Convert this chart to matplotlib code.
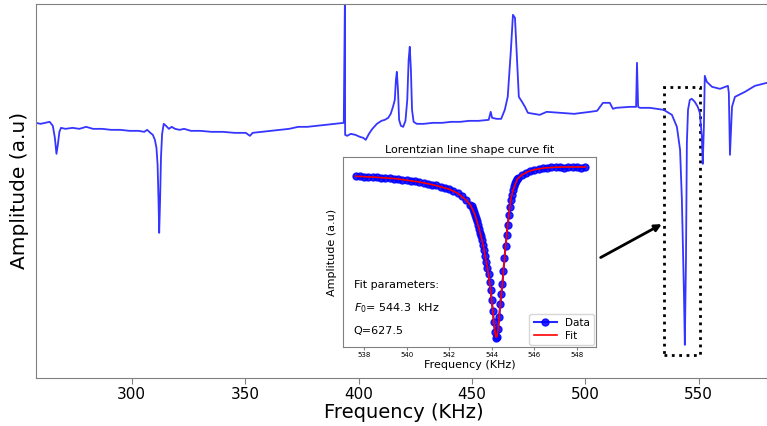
import matplotlib
matplotlib.use("Agg")
import matplotlib.pyplot as plt
from matplotlib.patches import Rectangle

# ---- main spectrum (frequency in kHz, amplitude in arbitrary units) ----
spec_freq = [257.7, 259.8, 261.8, 263.8, 265.2, 266.1, 266.8, 267.4, 268.1, 268.8,
             270.8, 273.9, 276.9, 279.9, 282.9, 286.9, 290.9, 295.0, 299.0, 303.0,
             305.5, 306.8, 308.2, 309.3, 310.2, 310.9, 311.4, 311.8, 312.1, 312.5,
             312.9, 313.4, 314.1, 315.1, 316.4, 317.6, 319.1, 321.1, 323.1, 326.1,
             330.2, 335.2, 340.2, 345.3, 350.3, 352.1, 353.3, 357.3, 361.3, 365.4,
             369.4, 373.4, 377.4, 381.5, 385.5, 389.5, 393.5, 394.0, 394.1, 395.0,
             396.6, 398.6, 400.6, 402.1, 403.2, 404.6, 406.1, 408.1, 410.1, 411.6,
             413.1, 414.2, 415.2, 416.0, 416.5, 416.9, 417.4, 417.9, 418.7, 419.7,
             420.7, 421.5, 422.1, 422.6, 423.1, 423.6, 424.3, 425.7, 428.7, 432.8,
             436.8, 440.8, 444.8, 448.8, 452.9, 457.4, 458.3, 458.9, 460.9, 462.9,
             464.5, 465.8, 467.2, 468.1, 469.0, 469.9, 470.7, 472.1, 473.4, 474.7,
             479.9, 483.0, 488.8, 495.1, 502.1, 505.2, 506.5, 507.8, 510.8, 512.2,
             513.5, 519.7, 522.4, 522.8, 523.3, 524.1, 528.5, 534.6, 538.2, 540.4,
             541.8, 542.6, 543.5, 543.9, 544.4, 544.8, 545.3, 546.1, 547.0, 548.3,
             549.6, 550.5, 551.4, 551.8, 552.3, 552.7, 553.6, 555.9, 559.4, 562.9,
             563.3, 563.8, 564.7, 566.0, 570.4, 574.8, 580.1]
spec_amp = [255, 254, 255, 256, 252, 240, 224, 233, 246, 250,
            249, 250, 249, 251, 249, 249, 248, 248, 247, 247,
            246, 248, 245, 243, 238, 230, 213, 178, 145, 178,
            221, 244, 254, 252, 249, 251, 249, 248, 249, 247,
            247, 246, 246, 245, 245, 242, 245, 246, 247, 248,
            249, 251, 251, 252, 253, 254, 255, 380, 243, 242,
            244, 243, 241, 240, 238, 244, 249, 254, 257, 258,
            260, 264, 271, 278, 298, 306, 288, 258, 252, 251,
            257, 278, 318, 331, 308, 268, 256, 254, 254, 255,
            255, 256, 256, 257, 257, 258, 266, 260, 259, 259,
            268, 281, 328, 363, 360, 318, 281, 276, 271, 265,
            263, 266, 265, 264, 266, 267, 271, 275, 275, 269,
            270, 271, 271, 315, 271, 270, 270, 268, 263, 251,
            228, 178, 85, 33, 118, 235, 268, 278, 279, 276,
            271, 265, 241, 214, 251, 302, 296, 291, 289, 292,
            285, 223, 271, 281, 286, 292, 295]

# ---- inset: measured resonance around 544 kHz ----
data_freq = [537.6, 537.8, 538.0, 538.2, 538.4, 538.6, 538.8, 539.0, 539.2, 539.4,
             539.6, 539.8, 540.0, 540.2, 540.4, 540.6, 540.8, 541.0, 541.2, 541.4,
             541.6, 541.8, 542.0, 542.2, 542.4, 542.6, 542.8, 543.0,
             543.05, 543.10, 543.15, 543.20, 543.25, 543.30, 543.35, 543.40, 543.45, 543.50,
             543.55, 543.60, 543.65, 543.70, 543.75, 543.80, 543.85, 543.90, 543.95, 544.00,
             544.05, 544.10, 544.15, 544.20, 544.25, 544.30, 544.35, 544.40, 544.45, 544.50,
             544.55, 544.60, 544.65, 544.70, 544.75, 544.80, 544.85, 544.90, 544.95, 545.00,
             545.05, 545.10, 545.15, 545.20, 545.25,
             545.4, 545.6, 545.8, 546.0, 546.2, 546.4, 546.6, 546.8, 547.0, 547.2,
             547.4, 547.6, 547.8, 548.0, 548.2, 548.4]
data_amp = [171, 171.5, 170.5, 170.5, 170, 170, 169.5, 169, 169.5, 168.5,
            168, 167.5, 167, 166.5, 166, 165, 164, 163.5, 162.5, 162,
            160.5, 159.5, 158, 156.5, 154, 151, 147, 142,
            141, 138, 135, 132, 129, 126, 122, 118, 114, 111,
            107, 102, 97, 91, 85, 79, 73, 65, 57, 47,
            36, 25, 15, 9, 10, 18, 30, 43, 53, 63,
            76, 89, 101, 112, 122, 132, 140, 147, 152, 157,
            161, 164, 166, 168, 169,
            172, 174.5, 176, 177.5, 178.5, 179, 179.5, 180.5, 180, 180.5,
            179.5, 180.5, 180, 180.5, 179.5, 180]

# ---- inset: Lorentzian fit ----
fit_freq = [537.6, 538.5, 539.5, 540.5, 541.0, 541.5, 542.0, 542.4, 542.8, 543.0,
            543.2, 543.4, 543.6, 543.8, 543.9, 544.0, 544.1, 544.15, 544.2, 544.25,
            544.3, 544.4, 544.5, 544.6, 544.7, 544.8, 544.9, 545.0, 545.2, 545.4,
            545.7, 546.0, 546.5, 547.0, 547.5, 548.4]
fit_amp = [171, 170, 168.5, 165.5, 163.5, 161, 158, 154, 147, 142,
           133, 119, 102, 79, 65, 47, 25, 15, 10, 11,
           18, 43, 63, 89, 112, 132, 148, 157, 168, 172,
           175.5, 177.5, 179.3, 180, 180.2, 180.2]

spine_col = "#808080"
line_col = "#3535ff"

fig = plt.figure(figsize=(7.67, 4.26), dpi=100)

ax = fig.add_axes([0.047, 0.113, 0.96, 0.878])
ax.plot(spec_freq, spec_amp, color=line_col, linewidth=1.3)
ax.set_xlim(257.8, 582.5)
ax.set_ylim(0, 374)
ax.set_yticks([])
ax.set_xticks([300, 350, 400, 450, 500, 550])
ax.tick_params(axis="x", labelsize=11, length=4, pad=2.5, color=spine_col)
ax.set_xlabel("Frequency (KHz)", fontsize=14, labelpad=1)
ax.set_ylabel("Amplitude (a.u)", fontsize=14.5, labelpad=5)
for s in ax.spines.values():
    s.set_color(spine_col)

# highlight box and arrow pointing to the zoomed resonance
ax.add_patch(Rectangle((534.8, 23), 15.9, 268, fill=False, edgecolor="black",
                       linestyle=":", linewidth=2))
ax.annotate("", xy=(534.8, 155), xytext=(505.7, 119),
            arrowprops=dict(arrowstyle="-|>", color="black", lw=2,
                            mutation_scale=10))

# inset
ins = fig.add_axes([0.447, 0.185, 0.330, 0.446])
ins.plot(data_freq, data_amp, "o-", color="blue", markersize=5,
         linewidth=1.5, alpha=0.85, label="Data")
ins.plot(fit_freq, fit_amp, color="red", linewidth=1.2, label="Fit")
ins.set_xlim(537.0, 548.9)
ins.set_ylim(0, 190)
ins.set_yticks([])
ins.set_xticks([538, 540, 542, 544, 546, 548])
ins.tick_params(axis="x", labelsize=5, length=2, pad=1.5, color=spine_col)
ins.set_xlabel("Frequency (KHz)", fontsize=8, labelpad=1.5)
ins.set_ylabel("Amplitude (a.u)", fontsize=8, labelpad=4)
ins.set_title("Lorentzian line shape curve fit", fontsize=8, pad=3)
for s in ins.spines.values():
    s.set_color(spine_col)
ins.text(0.043, 0.31, "Fit parameters:", transform=ins.transAxes, fontsize=8)
ins.text(0.043, 0.19, "$F_0$= 544.3  kHz", transform=ins.transAxes, fontsize=8)
ins.text(0.043, 0.07, "Q=627.5", transform=ins.transAxes, fontsize=8)
ins.legend(loc="lower right", fontsize=7.5, handlelength=2.2, borderpad=0.4,
           labelspacing=0.3, borderaxespad=0.2)

fig.savefig("out.png", dpi=100)
